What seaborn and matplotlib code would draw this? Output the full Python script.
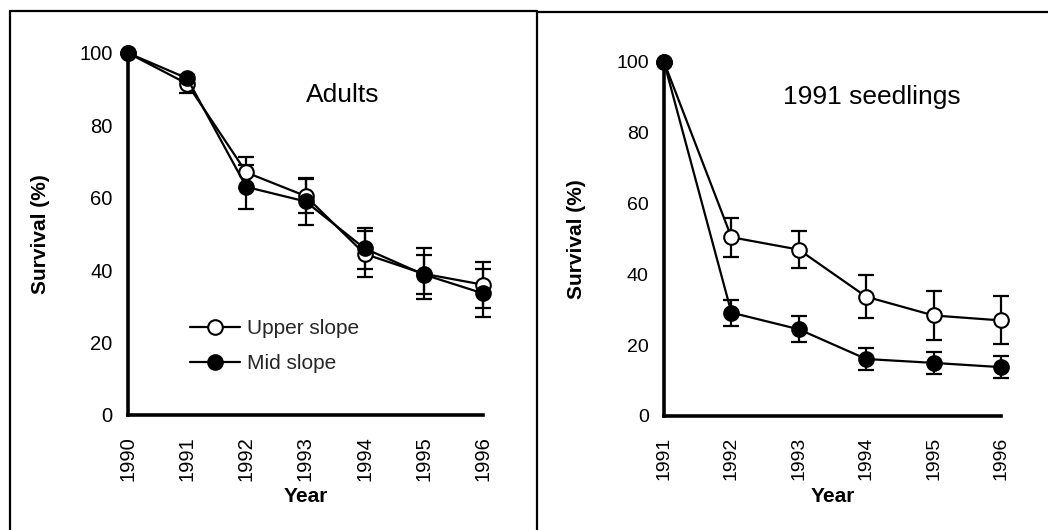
import numpy as np
import pandas as pd
import matplotlib
matplotlib.use("Agg")
import matplotlib.pyplot as plt
from matplotlib.lines import Line2D
import seaborn as sns

# ---- data ----
adult_years = [1990, 1991, 1992, 1993, 1994, 1995, 1996]
adult_upper = [100, 91.5, 67, 60.5, 44.5, 39, 36]
adult_upper_err = [0, 2.5, 4.3, 4.8, 6.3, 7.0, 6.4]
adult_mid = [100, 93, 63, 59, 46, 38.8, 33.6]
adult_mid_err = [0, 0.8, 6.0, 6.6, 5.7, 5.3, 6.6]

seed_years = [1991, 1992, 1993, 1994, 1995, 1996]
seed_upper = [100, 50.5, 47, 33.7, 28.4, 27]
seed_upper_err = [0, 5.5, 5.2, 6.0, 7.0, 6.8]
seed_mid = [100, 29.2, 24.5, 16.1, 15.0, 13.8]
seed_mid_err = [0, 3.7, 3.7, 3.1, 3.1, 3.1]

series_names = ["Upper slope", "Mid slope"]
panel_titles = ["Adults", "1991 seedlings"]
x_label = "Year"
y_label = "Survival (%)"
y_ticks = [0, 20, 40, 60, 80, 100]

sns.set_theme(style="white")
plt.rcParams['font.family'] = ['Liberation Sans', 'DejaVu Sans']

fig = plt.figure(figsize=(10.48, 5.3), dpi=100)
axL = fig.add_axes([128/1048, 1-415/530, (483-128)/1048, (415-53)/530])
axR = fig.add_axes([664/1048, 1-416/530, (1001-664)/1048, (416-62)/530])

face = {"Upper slope": "white", "Mid slope": "black"}
MS = 10.5

def draw(ax, years, up, uperr, mid, miderr, title, tx, ty, legend, tickfs):
    df = pd.DataFrame({
        "Year": years * 2,
        "Survival": up + mid,
        "Series": ["Upper slope"] * len(years) + ["Mid slope"] * len(years),
    })
    for name, vals, errs in [("Upper slope", up, uperr), ("Mid slope", mid, miderr)]:
        e = np.array(errs, dtype=float)
        mask = e > 0
        ax.errorbar(np.array(years)[mask], np.array(vals)[mask], yerr=e[mask],
                    fmt="none", ecolor="black", elinewidth=1.6, capsize=5.5,
                    capthick=1.6, clip_on=False, zorder=2)
        sub = df[df.Series == name]
        sns.lineplot(data=sub, x="Year", y="Survival", ax=ax, color="black",
                     lw=1.6, marker="o", markersize=MS,
                     markerfacecolor=face[name], markeredgecolor="black",
                     markeredgewidth=1.5, label=name, clip_on=False, zorder=3)
    ax.set_xlim(years[0], years[-1])
    ax.set_ylim(0, 100)
    ax.set_xticks(years)
    ax.set_xticklabels([str(y) for y in years], rotation=90, fontsize=tickfs)
    ax.set_yticks(y_ticks)
    ax.set_yticklabels([str(t) for t in y_ticks], fontsize=tickfs)
    ax.tick_params(direction="in", length=6, width=2.2, color="black",
                   labelcolor="black")
    ax.tick_params(axis="y", pad=11)
    ax.tick_params(axis="x", pad=15)
    for s in ["top", "right"]:
        ax.spines[s].set_visible(False)
    for s in ["left", "bottom"]:
        ax.spines[s].set_linewidth(2.6)
        ax.spines[s].set_color("black")
    ax.set_xlabel(x_label, fontsize=15, fontweight="bold", color="black")
    ax.set_ylabel(y_label, fontsize=15, fontweight="bold", color="black")
    ax.text(tx, ty, title, fontsize=19, ha="center", va="center", color="black")
    ax.set_facecolor("white")
    if legend:
        handles = [Line2D([], [], color="black", lw=1.6, marker="o", markersize=MS,
                          markerfacecolor=face[n], markeredgecolor="black",
                          markeredgewidth=1.5) for n in series_names]
        ax.legend(handles, series_names, loc="center left",
                  bbox_to_anchor=(0.175, 0.19), frameon=False, fontsize=15,
                  handlelength=2.4, handletextpad=0.35, borderpad=0,
                  borderaxespad=0, labelspacing=0.75)
    else:
        lg = ax.get_legend()
        if lg:
            lg.remove()

draw(axL, adult_years, adult_upper, adult_upper_err, adult_mid, adult_mid_err,
     panel_titles[0], 1993.63, 88.4, True, 14.5)
draw(axR, seed_years, seed_upper, seed_upper_err, seed_mid, seed_mid_err,
     panel_titles[1], 1994.09, 90.1, False, 14)

axL.yaxis.set_label_coords(-0.22, 0.5)
axR.yaxis.set_label_coords(-0.232, 0.5)
axL.xaxis.set_label_coords(0.5, -0.2)
axR.xaxis.set_label_coords(0.5, -0.2)

# panel frame lines
W, H = 1048, 530
def fl(x0, y0, x1, y1, lw=1.6):
    fig.add_artist(Line2D([x0/W, x1/W], [1-y0/H, 1-y1/H], color="black", lw=lw,
                          transform=fig.transFigure))
fl(10, 11, 537, 11)
fl(537, 12, 1048, 12)
fl(10, 11, 10, 530)
fl(537, 11, 537, 530)

fig.savefig("out.png", dpi=100, facecolor="white")
